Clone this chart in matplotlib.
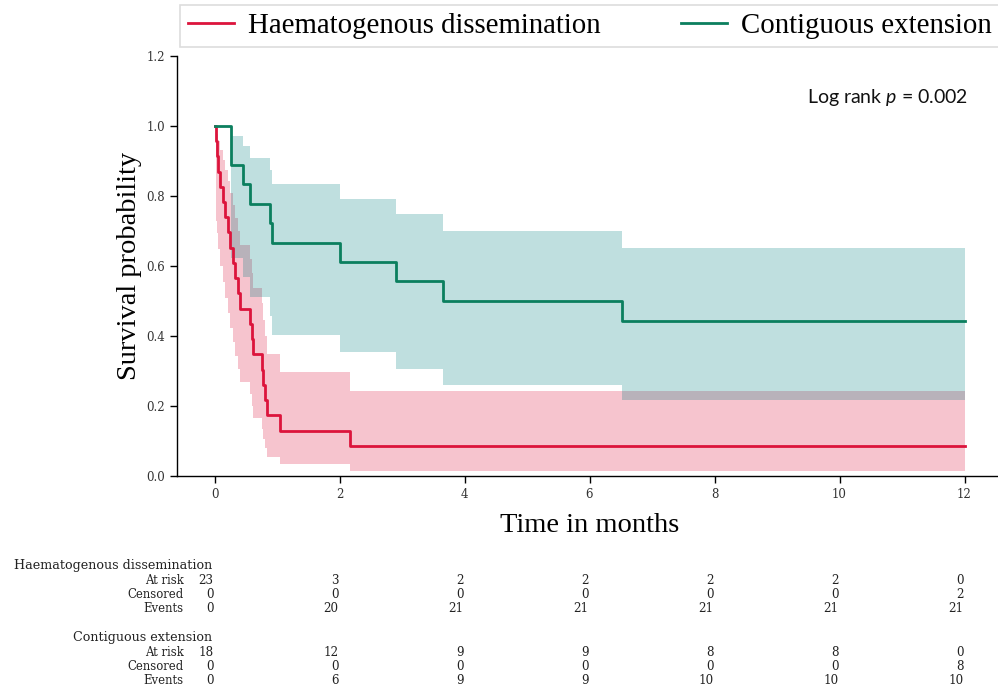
import numpy as np
import matplotlib
matplotlib.use("Agg")
import matplotlib.pyplot as plt
from matplotlib.transforms import blended_transform_factory, offset_copy

# Kaplan-Meier steps (time in months)
haem_label = "Haematogenous dissemination"
haem_times = [0, 0.02, 0.04, 0.06, 0.09, 0.13, 0.17, 0.21, 0.25, 0.29, 0.33, 0.37,
              0.41, 0.57, 0.60, 0.62, 0.76, 0.78, 0.80, 0.84, 1.05, 2.17, 12]
haem_surv = [1.0, 0.957, 0.913, 0.870, 0.826, 0.783, 0.739, 0.696, 0.652, 0.609, 0.565, 0.522,
             0.478, 0.435, 0.391, 0.348, 0.304, 0.261, 0.217, 0.174, 0.130, 0.087, 0.087]
haem_lo = [1.0, 0.729, 0.695, 0.648, 0.601, 0.554, 0.509, 0.466, 0.424, 0.383, 0.343, 0.305,
           0.268, 0.233, 0.199, 0.166, 0.135, 0.106, 0.079, 0.054, 0.033, 0.015, 0.015]
haem_hi = [1.0, 0.994, 0.978, 0.956, 0.931, 0.903, 0.873, 0.842, 0.809, 0.774, 0.738, 0.700,
           0.661, 0.621, 0.580, 0.537, 0.493, 0.447, 0.399, 0.350, 0.297, 0.242, 0.242]

cont_label = "Contiguous extension"
cont_times = [0, 0.26, 0.46, 0.57, 0.89, 0.92, 2.01, 2.90, 3.66, 6.52, 12]
cont_surv = [1.0, 0.889, 0.833, 0.778, 0.722, 0.667, 0.611, 0.556, 0.500, 0.444, 0.444]
cont_lo = [1.0, 0.624, 0.568, 0.511, 0.456, 0.404, 0.353, 0.305, 0.259, 0.216, 0.216]
cont_hi = [1.0, 0.971, 0.943, 0.910, 0.874, 0.834, 0.792, 0.748, 0.701, 0.651, 0.651]

# at-risk table
table_times = [0, 2, 4, 6, 8, 10, 12]
table_rows = ["At risk", "Censored", "Events"]
haem_table = [[23, 3, 2, 2, 2, 2, 0],
              [0, 0, 0, 0, 0, 0, 2],
              [0, 20, 21, 21, 21, 21, 21]]
cont_table = [[18, 12, 9, 9, 8, 8, 0],
              [0, 0, 0, 0, 0, 0, 8],
              [0, 6, 9, 9, 10, 10, 10]]

pval_text = "Log rank $p$ = 0.002"

plt.rcParams['mathtext.fontset'] = 'custom'
plt.rcParams['mathtext.rm'] = 'Lato'
plt.rcParams['mathtext.it'] = 'Lato:italic'

W, H = 998, 695
fig = plt.figure(figsize=(W / 100, H / 100), dpi=100)
ax = fig.add_axes([177 / W, 1 - 476 / H, (1002 - 177) / W, (476 - 56) / H])

red = "#dc143c"
green = "#0b7f5e"
teal = "#008080"

ax.fill_between(haem_times, haem_lo, haem_hi, step="post", color=red, alpha=0.25, lw=0)
ax.fill_between(cont_times, cont_lo, cont_hi, step="post", color=teal, alpha=0.25, lw=0)
ax.step(haem_times, haem_surv, where="post", color=red, lw=2, label=haem_label)
ax.step(cont_times, cont_surv, where="post", color=green, lw=2, label=cont_label)

ax.set_xlim(-0.6, 12.6)
ax.set_ylim(0, 1.2)
ax.set_xticks(table_times)
ax.set_yticks(np.arange(0, 1.21, 0.2))
ax.set_yticklabels([f"{v:.1f}" for v in np.arange(0, 1.21, 0.2)])
for s in ["top", "right"]:
    ax.spines[s].set_visible(False)
for s in ["left", "bottom"]:
    ax.spines[s].set_linewidth(1.0)
ax.tick_params(direction="out", length=5, width=1, labelsize=8.5, labelcolor="#333333")
for lab in ax.get_xticklabels() + ax.get_yticklabels():
    lab.set_family("DejaVu Serif")

ax.set_xlabel("Time in months", family="Liberation Serif", fontsize=20.5, labelpad=9)
ax.set_ylabel("Survival probability", family="Liberation Serif", fontsize=20.5, labelpad=3)

ax.text(0.9588, 0.9, pval_text, transform=ax.transAxes, ha="right", va="center",
        fontsize=14, family="Lato", color="#111111")

leg = ax.legend(loc="lower left", bbox_to_anchor=(180 / W, 1 - 47 / H),
                bbox_transform=fig.transFigure, ncol=2, borderaxespad=0,
                prop={"family": "Liberation Serif", "size": 20.8},
                handlelength=1.6, handletextpad=0.5, columnspacing=2.75,
                borderpad=0.27, fancybox=False, framealpha=1)
leg.get_frame().set_edgecolor("#dddddd")
leg.get_frame().set_linewidth(1.2)

# at-risk table below the axes
trans = blended_transform_factory(ax.transData, fig.transFigure)
val_tr = offset_copy(trans, fig=fig, x=-1, y=0, units="dots")
row_tr = offset_copy(trans, fig=fig, x=-31, y=0, units="dots")
head_tr = offset_copy(trans, fig=fig, x=-2, y=0, units="dots")
tkw = dict(family="DejaVu Serif", color="#222222", ha="right", va="center")
step_px = 14.3
for label, tab, top_px in [(haem_label, haem_table, 566), (cont_label, cont_table, 638)]:
    ax.text(0, 1 - top_px / H, label, transform=head_tr, fontsize=9.2, **tkw)
    for i, rname in enumerate(table_rows):
        y = 1 - (top_px + (i + 1) * step_px) / H
        ax.text(0, y, rname, transform=row_tr, fontsize=8.4, **tkw)
        for t, v in zip(table_times, tab[i]):
            ax.text(t, y, str(v), transform=val_tr, fontsize=8.6, **tkw)

fig.savefig("out.png", dpi=100)
